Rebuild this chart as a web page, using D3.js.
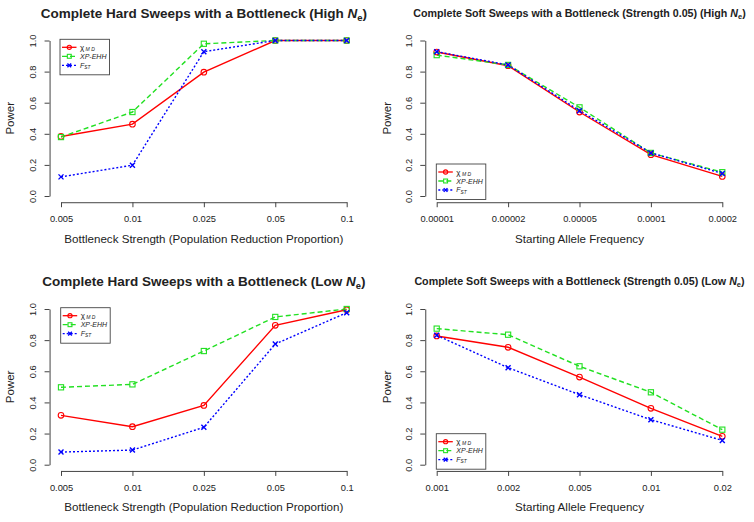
<!DOCTYPE html>
<html>
<head>
<meta charset="utf-8">
<script src="https://cdn.jsdelivr.net/npm/d3@7"></script>
<style>
  html, body { margin: 0; padding: 0; background: #fff; }
  svg { display: block; }
  text { font-family: "Liberation Sans", Arial, sans-serif; fill: #222; }
</style>
</head>
<body>
<svg id="chart" width="754" height="522"></svg>
<script>
// ---------- data ----------
const hardX = ["0.005", "0.01", "0.025", "0.05", "0.1"];
const softHighX = ["0.00001", "0.00002", "0.00005", "0.0001", "0.0002"];
const softLowX = ["0.001", "0.002", "0.005", "0.01", "0.02"];
const yTicks = [0, 0.2, 0.4, 0.6, 0.8, 1.0];

const hardHighChi   = [0.383, 0.462, 0.796, 1.0, 1.0];
const hardHighXpehh = [0.379, 0.540, 0.979, 1.0, 1.0];
const hardHighFst   = [0.123, 0.198, 0.928, 1.0, 1.0];

const softHighChi   = [0.926, 0.838, 0.540, 0.266, 0.126];
const softHighXpehh = [0.906, 0.843, 0.570, 0.277, 0.153];
const softHighFst   = [0.928, 0.843, 0.549, 0.277, 0.145];

const hardLowChi   = [0.317, 0.244, 0.381, 0.895, 0.995];
const hardLowXpehh = [0.497, 0.516, 0.730, 0.949, 1.0];
const hardLowFst   = [0.081, 0.094, 0.240, 0.775, 0.976];

const softLowChi   = [0.827, 0.754, 0.563, 0.362, 0.182];
const softLowXpehh = [0.874, 0.835, 0.632, 0.465, 0.225];
const softLowFst   = [0.831, 0.623, 0.450, 0.289, 0.156];

// ---------- styles ----------
const seriesStyle = [
  { key: "chi",   color: "#ff0000", dash: null,  marker: "circle" },
  { key: "xpehh", color: "#22e022", dash: "5,3", marker: "square" },
  { key: "fst",   color: "#0000ff", dash: "2,2", marker: "cross" }
];

const panels = [
  { titleMain: "Complete Hard Sweeps with a Bottleneck (High ", titleSize: 13.5,
    titleY: 14, cats: hardX, series: [hardHighChi, hardHighXpehh, hardHighFst],
    xr: [61, 346.7], yr: [196, 40.5], xlab: "Bottleneck Strength (Population Reduction Proportion)",
    legend: { x: 60, y: 39.3 }, ylabX: 11 },
  { titleMain: "Complete Soft Sweeps with a Bottleneck (Strength 0.05) (High ", titleSize: 10.7,
    titleY: 13.5, cats: softHighX, series: [softHighChi, softHighXpehh, softHighFst],
    xr: [436.7, 722.3], yr: [196, 40.5], xlab: "Starting Allele Frequency",
    legend: { x: 436.3, y: 164 }, ylabX: 388 },
  { titleMain: "Complete Hard Sweeps with a Bottleneck (Low ", titleSize: 13.5,
    titleY: 282, cats: hardX, series: [hardLowChi, hardLowXpehh, hardLowFst],
    xr: [61, 346.7], yr: [464.7, 309], xlab: "Bottleneck Strength (Population Reduction Proportion)",
    legend: { x: 60.7, y: 307.7 }, ylabX: 11 },
  { titleMain: "Complete Soft Sweeps with a Bottleneck (Strength 0.05) (Low ", titleSize: 10.7,
    titleY: 281.5, cats: softLowX, series: [softLowChi, softLowXpehh, softLowFst],
    xr: [436.7, 722.3], yr: [464.7, 309], xlab: "Starting Allele Frequency",
    legend: { x: 436.3, y: 433.7 }, ylabX: 388 }
];

const svg = d3.select("#chart");

function drawMarker(g, type, x, y, color, s) {
  if (type === "circle") {
    g.append("circle").attr("cx", x).attr("cy", y).attr("r", 2.8 * s)
      .attr("fill", "none").attr("stroke", color).attr("stroke-width", 1.1);
  } else if (type === "square") {
    const h = 2.6 * s;
    g.append("rect").attr("x", x - h).attr("y", y - h).attr("width", 2 * h).attr("height", 2 * h)
      .attr("fill", "none").attr("stroke", color).attr("stroke-width", 1.1);
  } else {
    const h = 2.5 * s;
    g.append("path").attr("d", `M${x - h},${y - h}L${x + h},${y + h}M${x - h},${y + h}L${x + h},${y - h}`)
      .attr("stroke", color).attr("stroke-width", 1.4).attr("fill", "none");
  }
}

panels.forEach(p => {
  const x = d3.scalePoint().domain(p.cats).range(p.xr).padding(0);
  const y = d3.scaleLinear().domain([0, 1]).range(p.yr);
  const step = (p.xr[1] - p.xr[0]) / (p.cats.length - 1);
  const axisX = p.xr[0] - 0.16 * step;
  const axisY = p.yr[0] + 0.04 * (p.yr[0] - p.yr[1]);
  const cx = (p.xr[0] + p.xr[1]) / 2;

  const g = svg.append("g");

  // title
  const t = g.append("text").attr("x", cx).attr("y", p.titleY).attr("text-anchor", "middle")
    .attr("dominant-baseline", "middle")
    .style("font-weight", "bold").style("font-size", p.titleSize + "px");
  t.append("tspan").text(p.titleMain);
  t.append("tspan").style("font-style", "italic").text("N");
  t.append("tspan").attr("dy", p.titleSize * 0.3).style("font-size", (p.titleSize * 0.7) + "px").text("e");
  t.append("tspan").attr("dy", -p.titleSize * 0.3).text(")");

  // y axis
  const ya = g.append("g").attr("transform", `translate(${axisX},0)`)
    .call(d3.axisLeft(y).tickValues(yTicks).tickFormat(d3.format(".1f")).tickSize(5).tickSizeOuter(0));
  ya.select(".domain").attr("stroke", "#444");
  ya.selectAll(".tick line").attr("stroke", "#444");
  ya.selectAll(".tick text").attr("x", null).attr("dy", null)
    .attr("transform", "translate(-13.5,0) rotate(-90)").attr("text-anchor", "middle")
    .style("font-size", "9.3px").style("font-family", "Liberation Sans, Arial, sans-serif").attr("fill", "#333");

  // x axis
  const xa = g.append("g").attr("transform", `translate(0,${axisY})`)
    .call(d3.axisBottom(x).tickSize(5).tickSizeOuter(0));
  xa.select(".domain").attr("stroke", "#444");
  xa.selectAll(".tick line").attr("stroke", "#444");
  xa.selectAll(".tick text").attr("y", 16.5).attr("dy", "0.35em")
    .style("font-size", "9.3px").style("font-family", "Liberation Sans, Arial, sans-serif").attr("fill", "#333");

  // axis titles
  g.append("text").attr("x", cx).attr("y", axisY + 37.5).attr("text-anchor", "middle")
    .attr("dominant-baseline", "middle").style("font-size", "11.6px").text(p.xlab);
  g.append("text").attr("transform", `translate(${p.ylabX},${(p.yr[0] + p.yr[1]) / 2}) rotate(-90)`)
    .attr("text-anchor", "middle").attr("dominant-baseline", "middle")
    .style("font-size", "11.5px").text("Power");

  // series
  const line = d3.line().x((d, i) => x(p.cats[i])).y(d => y(d));
  p.series.forEach((vals, si) => {
    const st = seriesStyle[si];
    g.append("path").datum(vals).attr("d", line).attr("fill", "none")
      .attr("stroke", st.color).attr("stroke-width", 1.4)
      .attr("stroke-dasharray", st.dash);
  });
  p.series.forEach((vals, si) => {
    const st = seriesStyle[si];
    vals.forEach((v, i) => drawMarker(g, st.marker, x(p.cats[i]), y(v), st.color, 1));
  });

  // legend
  const L = p.legend;
  const lg = g.append("g").attr("transform", `translate(${L.x},${L.y})`);
  lg.append("rect").attr("x", 0).attr("y", 0).attr("width", 49.5).attr("height", 35.5)
    .attr("fill", "#fff").attr("stroke", "#444").attr("stroke-width", 0.9);
  const rowY = [8, 17, 26];
  seriesStyle.forEach((st, si) => {
    const ry = rowY[si];
    lg.append("line").attr("x1", 2).attr("x2", 16.5).attr("y1", ry).attr("y2", ry)
      .attr("stroke", st.color).attr("stroke-width", 1.3).attr("stroke-dasharray", st.dash);
    drawMarker(lg, st.marker, 9.3, ry, st.color, 0.75);
  });
  // labels
  const t1 = lg.append("text").attr("x", 20).attr("y", rowY[0] + 2.5).style("font-size", "8px");
  t1.append("tspan").text("χ");
  t1.append("tspan").attr("dy", 1).style("font-size", "5px").style("font-style", "italic").text(" M D");
  lg.append("text").attr("x", 20).attr("y", rowY[1] + 2.5).style("font-size", "7px")
    .style("font-style", "italic").text("XP-EHH");
  const t3 = lg.append("text").attr("x", 20).attr("y", rowY[2] + 2.3).style("font-size", "7px")
    .style("font-style", "italic");
  t3.append("tspan").text("F");
  t3.append("tspan").attr("dy", 1.5).style("font-size", "4.8px").text("ST");
});
</script>
</body>
</html>
